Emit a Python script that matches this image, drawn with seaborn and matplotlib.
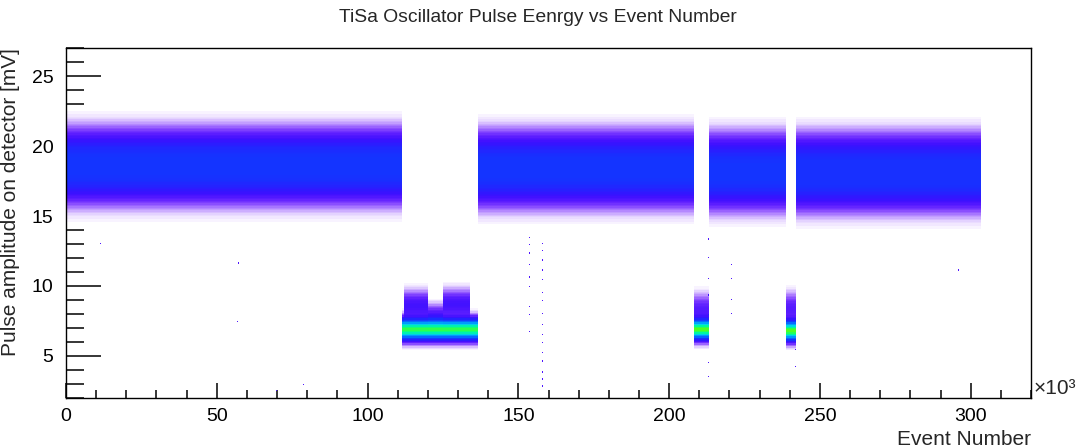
import numpy as np
import pandas as pd
import seaborn as sns
import matplotlib
matplotlib.use("Agg")
import matplotlib.pyplot as plt
from matplotlib.colors import LinearSegmentedColormap, ListedColormap
from matplotlib.ticker import MultipleLocator, FuncFormatter

# ---------------- data ----------------
# populations: event range [k events], centre [mV], spread [mV], events per 320-event bin
comp_start_k = [0.0, 0.0, 136.7, 136.7, 213.0, 213.0, 242.0, 242.0,
                111.5, 208.4, 238.6, 112.0, 120.0, 125.0, 208.4, 238.6]
comp_end_k   = [111.5, 111.5, 208.4, 208.4, 238.6, 238.6, 303.3, 303.3,
                136.7, 213.0, 242.0, 120.0, 125.0, 134.0, 213.0, 242.0]
comp_center  = [17.6, 19.5, 17.4, 19.3, 17.2, 19.1, 17.1, 19.1,
                6.9, 6.9, 6.8, 8.6, 8.0, 8.7, 8.3, 8.4]
comp_sigma   = [0.95, 0.95, 0.95, 0.95, 0.95, 0.95, 0.95, 0.95,
                0.42, 0.40, 0.40, 0.55, 0.40, 0.55, 0.60, 0.60]
comp_rate    = [160, 160, 160, 160, 160, 160, 160, 160,
                300, 300, 300, 50, 25, 50, 40, 40]

# isolated single events
stray_event_k = [153.8, 153.8, 153.8, 153.8, 153.8, 153.8, 153.8, 153.8, 153.8,
                 158.0, 158.0, 158.0, 158.0, 158.0, 158.0, 158.0, 158.0, 158.0,
                 158.0, 158.0, 158.0, 158.0, 158.0, 158.0, 158.0,
                 11.2, 57.0, 56.7, 70.0, 79.0, 295.7,
                 220.7, 220.7, 220.7, 220.7,
                 213.0, 213.0, 213.0, 213.0, 213.0, 213.0, 213.0,
                 233.0, 233.0, 241.9, 241.9]
stray_mv = [13.4, 12.9, 12.3, 11.5, 10.6, 9.9, 8.5, 7.9, 6.7,
            13.1, 12.6, 11.8, 11.1, 10.4, 9.6, 8.9, 8.1, 7.2,
            6.5, 5.9, 5.2, 4.6, 3.9, 3.3, 2.8,
            13.1, 11.7, 7.4, 2.5, 2.9, 11.1,
            11.5, 10.5, 9.0, 8.1,
            13.3, 12.0, 10.5, 9.3, 7.9, 4.5, 3.5,
            12.7, 12.2, 5.4, 4.2]

x_min, x_max, n_xbins = 0, 320000, 1000
y_min, y_max, n_ybins = 2.0, 27.0, 250
z_max = 50.0

title = "TiSa Oscillator Pulse Eenrgy vs Event Number"
xlabel = "Event Number"
ylabel = "Pulse amplitude on detector [mV]"

# ---------------- build binned table ----------------
xedges = np.linspace(x_min, x_max, n_xbins + 1)
yedges = np.linspace(y_min, y_max, n_ybins + 1)
xc = 0.5 * (xedges[:-1] + xedges[1:])
yc = 0.5 * (yedges[:-1] + yedges[1:])
dy = yedges[1] - yedges[0]
W = np.zeros((n_xbins, n_ybins))
for s, e, c, sg, r in zip(comp_start_k, comp_end_k, comp_center, comp_sigma, comp_rate):
    sel = (xc >= s * 1000) & (xc < e * 1000)
    prof = r * dy * np.exp(-0.5 * ((yc - c) / sg) ** 2) / (sg * np.sqrt(2 * np.pi))
    W[sel, :] += prof[None, :]
XX, YY = np.meshgrid(xc, yc, indexing="ij")
df = pd.DataFrame({"event": np.concatenate([XX.ravel(), np.array(stray_event_k) * 1000]),
                   "amp": np.concatenate([YY.ravel(), np.array(stray_mv)]),
                   "w": np.concatenate([W.ravel(), np.full(len(stray_mv), 3.0)])})

# ---------------- style ----------------
sns.set_style("white")
plt.rcParams["font.family"] = ["Liberation Sans", "DejaVu Sans"]

pal = LinearSegmentedColormap.from_list("rootpal", [
    (0.00, (0.40, 0.00, 1.00)),
    (0.08, (0.22, 0.05, 1.00)),
    (0.16, (0.08, 0.20, 1.00)),
    (0.30, (0.00, 0.55, 1.00)),
    (0.42, (0.00, 0.85, 0.90)),
    (0.52, (0.00, 1.00, 0.55)),
    (0.62, (0.40, 1.00, 0.00)),
    (0.78, (1.00, 1.00, 0.00)),
    (0.90, (1.00, 0.50, 0.00)),
    (1.00, (1.00, 0.00, 0.00)),
])
# expected look of sparse cells: occupied with probability 1-exp(-count)
v = np.linspace(0, 1, 1024)
fill = 1 - np.exp(-v * z_max)
base = pal(v)[:, :3]
cols = fill[:, None] * base + (1 - fill[:, None]) * 1.0
root_cmap = ListedColormap(cols)

fig = plt.figure(figsize=(10.83, 4.48), dpi=100)
ax = fig.add_axes([66 / 1083, 1 - 398 / 448, (1031 - 66) / 1083, (398 - 48) / 448])

sns.histplot(data=df, x="event", y="amp", weights="w", bins=[xedges, yedges],
             cmap=root_cmap, thresh=0.03, ax=ax)
for coll in ax.collections:
    coll.set_clim(0, z_max)

ax.set_xlim(x_min, x_max)
ax.set_ylim(y_min, y_max)

ax.xaxis.set_major_locator(MultipleLocator(50000))
ax.xaxis.set_minor_locator(MultipleLocator(10000))
ax.xaxis.set_major_formatter(FuncFormatter(lambda val, p: f"{val / 1000:g}"))
ax.yaxis.set_major_locator(MultipleLocator(5))
ax.yaxis.set_minor_locator(MultipleLocator(1))

ax.tick_params(axis="both", which="both", direction="in", bottom=True, left=True,
               top=False, right=False, colors="black", labelsize=14, width=1.1)
ax.tick_params(axis="y", which="major", length=25, pad=9)
ax.tick_params(axis="y", which="minor", length=13)
ax.tick_params(axis="x", which="major", length=11, pad=7)
ax.tick_params(axis="x", which="minor", length=6)
for sp in ax.spines.values():
    sp.set_visible(True)
    sp.set_color("black")
    sp.set_linewidth(1.0)

ax.set_xlabel(xlabel, loc="right", fontsize=15, labelpad=4)
ax.set_ylabel(ylabel, loc="top", fontsize=15)
ax.yaxis.set_label_coords(-0.048, 1.0)
ax.text(1.003, 0.0, "×10³", transform=ax.transAxes, ha="left", va="bottom", fontsize=15)
fig.text(0.497, 1 - 17 / 448, title, ha="center", va="center", fontsize=13.9)
ax.grid(False)

fig.savefig("out.png", dpi=100, facecolor="white")
